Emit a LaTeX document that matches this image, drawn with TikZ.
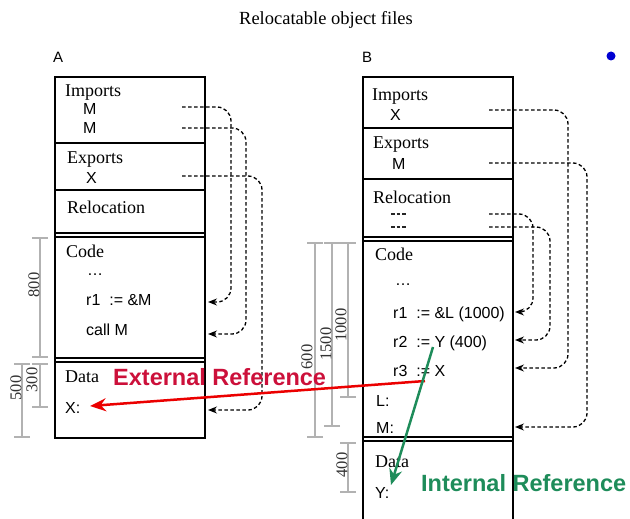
\documentclass[tikz,border=0pt]{standalone}
\usepackage{fontspec}
\setmainfont{Liberation Serif}
\setsansfont{Liberation Sans}
\usetikzlibrary{arrows.meta}
\definecolor{extred}{RGB}{204,16,58}
\definecolor{arrred}{RGB}{235,0,0}
\definecolor{intgreen}{RGB}{30,140,90}
\definecolor{dimgray}{RGB}{178,178,178}
\definecolor{dotblue}{RGB}{0,0,210}
\begin{document}
\begin{tikzpicture}[x=1pt,y=-1pt,
  every node/.style={inner sep=0pt, anchor=base west},
  head/.style={font=\fontsize{18}{20}\selectfont},
  item/.style={font=\sffamily\fontsize{16}{18}\selectfont},
  boxline/.style={line width=1.6pt},
  link/.style={dash pattern=on 3.5pt off 2.5pt, line width=1.3pt, rounded corners=14pt,
    -{Stealth[length=9pt,width=7pt]}},
  dimline/.style={dimgray, line width=1.8pt, {Bar[width=16pt]}-{Bar[width=16pt]}},
  dimlabel/.style={font=\fontsize{16.5}{18}\selectfont, text=black!80, rotate=90, anchor=center},
  reflabel/.style={font=\sffamily\bfseries\fontsize{23.5}{26}\selectfont},
  refarrow/.style={line width=2.5pt, -{Stealth[length=16pt,width=13pt]}}
]
\useasboundingbox (0,0) rectangle (630,519);

% title and file names
\node[anchor=base] (title) at (326,25) {\fontsize{18.5}{20}\selectfont Relocatable object files};
\node[font=\sffamily\fontsize{15}{17}\selectfont] (nameA) at (53,63) {A};
\node[font=\sffamily\fontsize{15}{17}\selectfont] (nameB) at (362,63) {B};
\fill[dotblue] (611,56) circle (4.5);

% ---------- object file A ----------
\draw[boxline] (55,77) rectangle (205,438);
\draw[boxline] (55,143) -- (205,143);
\draw[boxline] (55,190) -- (205,190);
\draw[boxline] (55,233) -- (205,233) (55,237) -- (205,237);
\draw[boxline] (55,358) -- (205,358) (55,362) -- (205,362);

\node[head] (aimp) at (65,97) {Imports};
\node[item] (aimpM1) at (83,115) {M};
\node[item] (aimpM2) at (83,134) {M};
\node[head] (aexp) at (67,164) {Exports};
\node[item] (aexpX) at (86,183) {X};
\node[head] (areloc) at (67,213) {Relocation};
\node[head] (acode) at (66,257) {Code};
\node[item] (adots) at (87,275) {\dots};
\node[item] (ar1) at (86,305) {r1\ \ := \&M};
\node[item] (acall) at (86,335) {call M};
\node[head] (adata) at (65,382) {Data};
\node[item] (aX) at (65,413) {X:};

% link ends of A
\coordinate (aM1s) at (182,107);
\coordinate (aM2s) at (182,128);
\coordinate (aXs) at (182,176);
\coordinate (ar1t) at (208,302);
\coordinate (acallt) at (208,334);
\coordinate (aXt) at (208,410);

% ---------- object file B ----------
\draw[boxline] (363,530) -- (363,77) -- (513,77) -- (513,530);
\draw[boxline] (363,128) -- (513,128);
\draw[boxline] (363,179) -- (513,179);
\draw[boxline] (363,237) -- (513,237) (363,241) -- (513,241);
\draw[boxline] (363,437) -- (513,437) (363,441) -- (513,441);

\node[head] (bimp) at (372,100) {Imports};
\node[item] (bimpX) at (390,121) {X};
\node[head] (bexp) at (373,148) {Exports};
\node[item] (bexpM) at (392,169) {M};
\node[head] (breloc) at (373,203) {Relocation};
% placeholder relocation entries
\draw[black!85, dash pattern=on 3.5pt off 2pt, line width=1.2pt] (391,214) -- (406.5,214) (391,227) -- (406.5,227);
\node[head] (bcode) at (375,260) {Code};
\node[item] (bdots) at (395,285) {\dots};
\node[item] (br1) at (393,318) {r1\ \ := \&L (1000)};
\node[item] (br2) at (393,347) {r2\ \ := Y (400)};
\node[item] (br3) at (393,376) {r3\ \ := X};
\node[item] (bL) at (376,406) {L:};
\node[item] (bM) at (376,433) {M:};
\node[head] (bdata) at (375,467) {Data};
\node[item] (bY) at (375,498) {Y:};

% link ends of B
\coordinate (bXs) at (489,110);
\coordinate (bMs) at (489,163);
\coordinate (brel1s) at (489,214);
\coordinate (brel2s) at (489,227);
\coordinate (br1t) at (515,312);
\coordinate (br2t) at (515,340);
\coordinate (br3t) at (515,368);
\coordinate (bMt) at (515,427);

% ---------- dashed links ----------
\draw[link] (aM1s) -- (231,107) -- (231,302) -- (ar1t);
\draw[link] (aM2s) -- (246,128) -- (246,334) -- (acallt);
\draw[link] (aXs) -- (262,176) -- (262,410) -- (aXt);

\draw[link] (brel1s) -- (533,214) -- (533,312) -- (br1t);
\draw[link] (brel2s) -- (550,227) -- (550,340) -- (br2t);
\draw[link] (bXs) -- (568,110) -- (568,368) -- (br3t);
\draw[link] (bMs) -- (587,163) -- (587,427) -- (bMt);

% ---------- sizes ----------
\draw[dimline] (40,237) -- (40,358);
\node[dimlabel] (d800) at (34,285) {800};
\draw[dimline] (40,363) -- (40,408);
\node[dimlabel] (d300) at (32,380) {300};
\draw[dimline] (22,363) -- (22,438);
\node[dimlabel] (d500) at (16,388) {500};

\draw[dimline] (315,242) -- (315,438);
\node[dimlabel] (d600) at (307,357) {600};
\draw[dimline] (332,242) -- (332,427);
\node[dimlabel] (d1500) at (326,344) {1500};
\draw[dimline] (348,242) -- (348,398);
\node[dimlabel] (d1000) at (341,325) {1000};
\draw[dimline] (348,442) -- (348,493);
\node[dimlabel] (d400) at (342,465) {400};

% ---------- references ----------
\coordinate (extfrom) at (425,381);
\coordinate (extto) at (90,406);
\coordinate (intfrom) at (433,347);
\coordinate (intto) at (391,485);
\draw[refarrow, arrred] (extfrom) -- (extto);
\draw[refarrow, intgreen] (intfrom) -- (intto);
\node[reflabel, text=extred] (extlbl) at (113,385) {External Reference};
\node[reflabel, text=intgreen] (intlbl) at (421,491) {Internal Reference};
\end{tikzpicture}
\end{document}
